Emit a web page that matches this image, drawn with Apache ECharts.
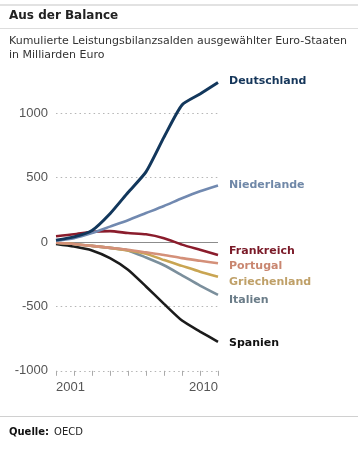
<!DOCTYPE html>
<html>
<head>
<meta charset="utf-8">
<script src="https://cdn.jsdelivr.net/npm/echarts@6/dist/echarts.min.js"></script>
<style>
html,body{margin:0;padding:0;background:#fff;}
#c{width:358px;height:452px;}
</style>
</head>
<body>
<div id="c"></div>
<script>
var years = ['2001','2002','2003','2004','2005','2006','2007','2008','2009','2010'];
var yTicks = [-1000, -500, 0, 500, 1000];
var deutschland = [15, 40, 90, 220, 385, 545, 815, 1065, 1150, 1240];
var niederlande = [10, 30, 70, 120, 170, 225, 280, 340, 395, 440];
var frankreich = [45, 60, 80, 85, 70, 60, 30, -20, -60, -100];
var portugal = [-5, -15, -30, -45, -60, -80, -100, -125, -145, -165];
var griechenland = [-5, -15, -30, -45, -65, -90, -140, -185, -230, -270];
var italien = [-5, -15, -30, -45, -65, -120, -180, -258, -338, -410];
var spanien = [-15, -35, -65, -125, -215, -345, -480, -610, -695, -775];

var seriesDefs = [
  {name:'Spanien', data:spanien, color:'#1b1b1b', label:'#111111', dy:1},
  {name:'Italien', data:italien, color:'#7b8f9c', label:'#6a7c88', dy:5},
  {name:'Griechenland', data:griechenland, color:'#c9a552', label:'#bfa068', dy:5},
  {name:'Portugal', data:portugal, color:'#d49079', label:'#c98670', dy:3},
  {name:'Frankreich', data:frankreich, color:'#8a1c2c', label:'#7a1a28', dy:-4},
  {name:'Niederlande', data:niederlande, color:'#7189b0', label:'#7088a8', dy:0},
  {name:'Deutschland', data:deutschland, color:'#12375c', label:'#15365a', dy:-1}
];

var axisFont = '"Liberation Sans", Arial, Helvetica, sans-serif';
var textFont = '"DejaVu Sans", Verdana, sans-serif';

var series = [{
  type:'line', data:[], silent:true, z:1,
  markLine:{
    silent:true, symbol:'none', label:{show:false},
    lineStyle:{color:'#8c8c8c', width:1, type:'solid'},
    data:[{yAxis:0}]
  }
}];
seriesDefs.forEach(function(s, i){
  series.push({
    name:s.name, type:'line', data:s.data, smooth:0.2, symbol:'none',
    clip:false, z:3+i,
    lineStyle:{color:s.color, width:s.name==='Deutschland'?3:2.6},
    endLabel:{
      show:true, formatter:s.name, distance:11, offset:[0, s.dy],
      color:s.label, fontFamily:textFont, fontWeight:'bold', fontSize:11
    }
  });
});

var chart = echarts.init(document.getElementById('c'), null, {renderer:'canvas'});
chart.setOption({
  animation:false,
  backgroundColor:'#ffffff',
  title:[
    {text:'Aus der Balance', left:9, top:10, padding:0,
     textStyle:{fontFamily:textFont, fontWeight:'bold', fontSize:12, color:'#222'}},
    {text:'Kumulierte Leistungsbilanzsalden ausgewählter Euro-Staaten\nin Milliarden Euro', left:9, top:34, padding:0,
     textStyle:{fontFamily:textFont, fontWeight:'normal', fontSize:11, lineHeight:14, color:'#333'}},
    {text:'{b|Quelle:} {n|OECD}', left:9, top:423, padding:0,
     textStyle:{rich:{
       b:{fontFamily:textFont, fontWeight:'bold', fontSize:10, color:'#111'},
       n:{fontFamily:textFont, fontWeight:'normal', fontSize:10, color:'#222'}
     }}}
  ],
  graphic:[
    {type:'rect', shape:{x:0, y:4, width:358, height:2}, style:{fill:'#e2e2e2'}, silent:true},
    {type:'rect', shape:{x:0, y:28, width:358, height:1}, style:{fill:'#dddddd'}, silent:true},
    {type:'rect', shape:{x:0, y:416, width:358, height:1}, style:{fill:'#d0d0d0'}, silent:true}
  ],
  grid:{left:56, right:140, top:113.3, bottom:81.2, containLabel:false},
  xAxis:{
    type:'category', data:years, boundaryGap:false,
    axisLine:{show:false, onZero:false},
    axisTick:{show:true, interval:0, length:5, inside:false, lineStyle:{color:'#aaa'}},
    splitLine:{show:false},
    axisLabel:{
      margin:10, interval:function(i){return i===0 || i===years.length-1;},
      formatter:function(v, i){ return i===0 ? '{l|'+v+'}' : '{r|'+v+'}'; },
      rich:{
        l:{fontFamily:axisFont, fontSize:13, color:'#555', padding:[0,0,0,29]},
        r:{fontFamily:axisFont, fontSize:13, color:'#555', padding:[0,29,0,0]}
      }
    }
  },
  yAxis:{
    type:'value', min:yTicks[0], max:yTicks[yTicks.length-1], interval:500,
    axisLine:{show:false}, axisTick:{show:false},
    axisLabel:{margin:8, fontFamily:axisFont, fontSize:13, color:'#555',
      formatter:function(v){ return String(v); }},
    splitLine:{show:true, lineStyle:{color:'#b5b5b5', type:[1.5,3.2], width:1}}
  },
  series:series
});
</script>
</body>
</html>
